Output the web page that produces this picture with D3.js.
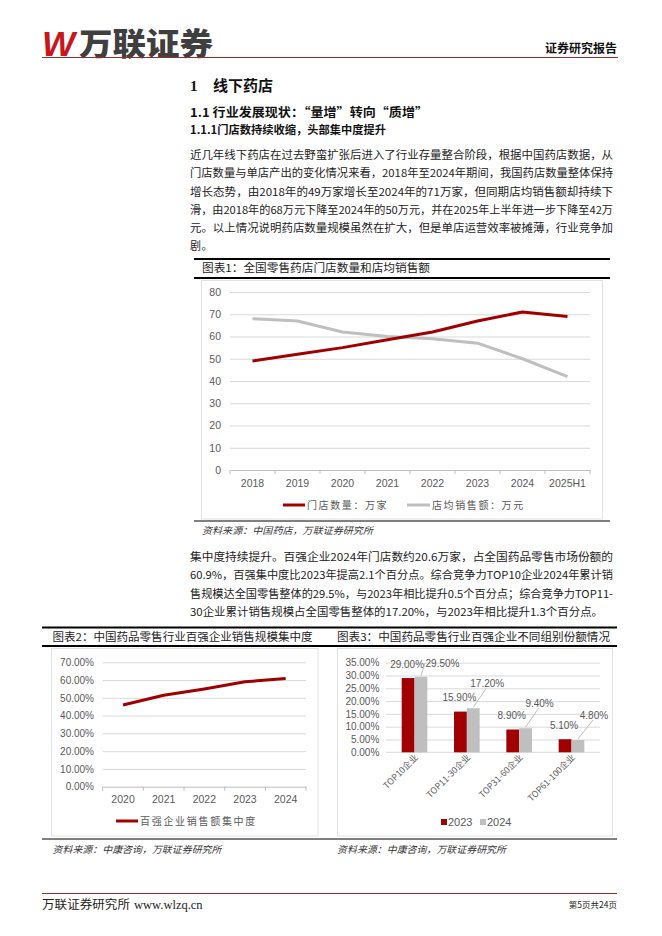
<!DOCTYPE html>
<html>
<head>
<meta charset="utf-8">
<script src="https://cdn.jsdelivr.net/npm/d3@7"></script>
<style>
  body { margin: 0; background: #fff; }
  svg text { font-family: "Noto Sans CJK SC", "Noto Sans", sans-serif; }
</style>
</head>
<body>
<svg id="page"></svg>
<script>
// ---- data ----
const storeYears = ["2018", "2019", "2020", "2021", "2022", "2023", "2024", "2025H1"];
const storeCount = [49, 52, 55, 58.5, 62, 67, 71, 69];
const avgSales = [68, 67, 62, 60, 59, 57, 50, 42];
const chart1Ticks = [0, 10, 20, 30, 40, 50, 60, 70, 80];

const concYears = ["2020", "2021", "2022", "2023", "2024"];
const concShare = [46, 51.5, 55, 59, 60.9];
const chart2Ticks = [0, 10, 20, 30, 40, 50, 60, 70];

const groups = ["TOP10企业", "TOP11-30企业", "TOP31-60企业", "TOP61-100企业"];
const share2023 = [29.0, 15.9, 8.9, 5.1];
const share2024 = [29.5, 17.2, 9.4, 4.8];
const chart3Ticks = [0, 5, 10, 15, 20, 25, 30, 35];

const para1 = [
  "近几年线下药店在过去野蛮扩张后进入了行业存量整合阶段，根据中国药店数据，从",
  "门店数量与单店产出的变化情况来看，2018年至2024年期间，我国药店数量整体保持",
  "增长态势，由2018年的49万家增长至2024年的71万家，但同期店均销售额却持续下",
  "滑，由2018年的68万元下降至2024年的50万元，并在2025年上半年进一步下降至42万",
  "元。以上情况说明药店数量规模虽然在扩大，但是单店运营效率被摊薄，行业竞争加",
  "剧。"
];
const para2 = [
  "集中度持续提升。百强企业2024年门店数约20.6万家，占全国药品零售市场份额的",
  "60.9%，百强集中度比2023年提高2.1个百分点。综合竞争力TOP10企业2024年累计销",
  "售规模达全国零售整体的29.5%，与2023年相比提升0.5个百分点；综合竞争力TOP11-",
  "30企业累计销售规模占全国零售整体的17.20%，与2023年相比提升1.3个百分点。"
];

// ---- styles ----
const RED = "#A00000";
const GREY = "#BFBFBF";
const GRID = "#D9D9D9";
const TXT = "#595959";
const LATIN = "'Liberation Sans', Arial, sans-serif";

const svg = d3.select("#page").attr("width", 662).attr("height", 936);
svg.append("rect").attr("width", 662).attr("height", 936).attr("fill", "#fff");

function label(x, y, str, size, o = {}) {
  const t = svg.append("text")
    .attr("x", x).attr("y", y)
    .attr("font-size", size)
    .attr("fill", o.fill || "#222")
    .attr("text-anchor", o.anchor || "start")
    .text(str);
  if (o.weight) t.attr("font-weight", o.weight);
  if (o.family) t.style("font-family", o.family);
  if (o.italic) t.attr("font-style", "italic");
  if (o.spacing) t.attr("letter-spacing", o.spacing);
  if (o.width) t.attr("textLength", o.width).attr("lengthAdjust", "spacingAndGlyphs");
  return t;
}

function hline(x1, x2, y, w, color) {
  svg.append("line").attr("x1", x1).attr("x2", x2).attr("y1", y).attr("y2", y)
    .attr("stroke", color).attr("stroke-width", w);
}

// ---- header / footer ----
label(42, 56, "W", 35, { fill: "#C8161D", weight: 700, italic: true, family: LATIN });
label(79, 55, "万联证券", 31, { fill: "#3f3f3f", weight: 900, width: 134 });
label(617, 53, "证券研究报告", 12, { anchor: "end", weight: 700, fill: "#111", width: 72 });
hline(42, 618, 57.5, 1, "#9B2C2C");

hline(42, 617, 893.5, 1, "#9B2C2C");
label(42, 909, "万联证券研究所", 12, { fill: "#222", width: 88 });
label(134, 909, "www.wlzq.cn", 12.5, { fill: "#222", family: "'Liberation Serif', serif" });
label(617, 908, "第5页共24页", 8.5, { anchor: "end", fill: "#222" });

// ---- headings and text ----
label(190, 91, "1", 15, { weight: 700, fill: "#111", family: "'Liberation Serif', serif" });
label(213, 91, "线下药店", 15, { weight: 700, fill: "#111", width: 60 });
label(190, 116.5, "1.1 行业发展现状：“量增”转向“质增”", 12, { weight: 700, fill: "#111", width: 238 });
label(190, 134, "1.1.1门店数持续收缩，头部集中度提升", 11, { weight: 700, fill: "#111", width: 196 });

para1.forEach((s, i) => {
  label(190, 159.3 + i * 18.15, s, 11, i < para1.length - 1 ? { width: 423 } : { spacing: 0.4 });
});
para2.forEach((s, i) => {
  label(190, 561 + i * 18.4, s, 11, i < para2.length - 1 ? { width: 423 } : { width: 413 });
});

// ---- chart 1 ----
hline(194, 610, 259, 2, "#000");
label(202, 272.2, "图表1：全国零售药店门店数量和店均销售额", 11, { width: 228 });
hline(194, 610, 278, 2, "#000");
svg.append("rect").attr("x", 201.5).attr("y", 280.5).attr("width", 401).attr("height", 238.5)
  .attr("fill", "none").attr("stroke", "#E3E3E3");
hline(194, 610, 521, 1, "#000");
label(202, 533.6, "资料来源：中国药店，万联证券研究所", 9.5, { italic: true, fill: "#333", width: 171 });

const x1 = d3.scaleBand().domain(storeYears).range([230, 590]);
const y1 = d3.scaleLinear().domain([0, 80]).range([470, 292]);
const g1 = svg.append("g");

g1.append("g").attr("transform", "translate(230,0)")
  .call(d3.axisLeft(y1).tickValues(chart1Ticks.slice(1)).tickSize(-360).tickFormat(""))
  .call(g => g.select(".domain").remove())
  .call(g => g.selectAll("line").attr("stroke", GRID));
g1.append("g").attr("transform", "translate(230,0)")
  .call(d3.axisLeft(y1).tickValues(chart1Ticks).tickSize(0).tickPadding(9))
  .call(g => g.select(".domain").remove())
  .call(g => g.selectAll("text").attr("fill", TXT).attr("font-size", 10.5).style("font-family", LATIN));
g1.append("g").attr("transform", `translate(0,${y1(0)})`)
  .call(d3.axisBottom(x1).tickSize(0).tickPadding(9.5))
  .call(g => g.select(".domain").attr("stroke", GREY))
  .call(g => g.selectAll("text").attr("fill", TXT).attr("font-size", 10.5).style("font-family", LATIN));
g1.append("g").selectAll("line")
  .data(d3.range(storeYears.length + 1)).join("line")
  .attr("x1", i => x1.range()[0] + i * x1.step())
  .attr("x2", i => x1.range()[0] + i * x1.step())
  .attr("y1", y1(0)).attr("y2", y1(0) + 4)
  .attr("stroke", GREY);

const line1 = d3.line()
  .x((d, i) => x1(storeYears[i]) + x1.bandwidth() / 2)
  .y(d => y1(d));
g1.append("path").datum(avgSales).attr("d", line1)
  .attr("fill", "none").attr("stroke", GREY).attr("stroke-width", 3).attr("stroke-linejoin", "round");
g1.append("path").datum(storeCount).attr("d", line1)
  .attr("fill", "none").attr("stroke", RED).attr("stroke-width", 3).attr("stroke-linejoin", "round");

hline(283, 305, 505, 3, RED);
label(307, 509, "门店数量：万家", 10, { fill: TXT, spacing: 1.6 });
hline(407, 430, 505, 3, GREY);
label(432, 509, "店均销售额：万元", 10, { fill: TXT, spacing: 1.6 });

// ---- chart 2 / 3 shared frame ----
hline(42, 617, 627.5, 2, "#000");
hline(42, 617, 646, 2, "#000");
hline(42, 617, 839, 1, "#000");
label(52.5, 640.7, "图表2：中国药品零售行业百强企业销售规模集中度", 11, { width: 260 });
label(337, 640.7, "图表3：中国药品零售行业百强企业不同组别份额情况", 11, { width: 273 });
label(52.5, 852.6, "资料来源：中康咨询，万联证券研究所", 9.5, { italic: true, fill: "#333", width: 169 });
label(337, 852.6, "资料来源：中康咨询，万联证券研究所", 9.5, { italic: true, fill: "#333", width: 169 });
svg.append("rect").attr("x", 51.5).attr("y", 648.5).attr("width", 266.5).attr("height", 187.5)
  .attr("fill", "none").attr("stroke", "#E3E3E3");
svg.append("rect").attr("x", 337.5).attr("y", 648.5).attr("width", 275).attr("height", 187.5)
  .attr("fill", "none").attr("stroke", "#E3E3E3");

// ---- chart 2 ----
const pct = d => d.toFixed(2) + "%";
const x2 = d3.scaleBand().domain(concYears).range([102.7, 306]);
const y2 = d3.scaleLinear().domain([0, 70]).range([786.7, 662.3]);
const g2 = svg.append("g");
g2.append("g").attr("transform", "translate(102.7,0)")
  .call(d3.axisLeft(y2).tickValues(chart2Ticks.slice(1)).tickSize(-203.3).tickFormat(""))
  .call(g => g.select(".domain").remove())
  .call(g => g.selectAll("line").attr("stroke", GRID));
g2.append("g").attr("transform", "translate(102.7,0)")
  .call(d3.axisLeft(y2).tickValues(chart2Ticks).tickSize(0).tickPadding(8.7).tickFormat(pct))
  .call(g => g.select(".domain").remove())
  .call(g => g.selectAll("text").attr("fill", TXT).attr("font-size", 10).style("font-family", LATIN));
g2.append("g").attr("transform", `translate(0,${y2(0)})`)
  .call(d3.axisBottom(x2).tickSize(0).tickPadding(8.8))
  .call(g => g.select(".domain").attr("stroke", GREY))
  .call(g => g.selectAll("text").attr("fill", TXT).attr("font-size", 10.5).style("font-family", LATIN));
g2.append("g").selectAll("line")
  .data(d3.range(concYears.length + 1)).join("line")
  .attr("x1", i => x2.range()[0] + i * x2.step())
  .attr("x2", i => x2.range()[0] + i * x2.step())
  .attr("y1", y2(0)).attr("y2", y2(0) + 4)
  .attr("stroke", GREY);
g2.append("path").datum(concShare)
  .attr("d", d3.line().x((d, i) => x2(concYears[i]) + x2.bandwidth() / 2).y(d => y2(d)))
  .attr("fill", "none").attr("stroke", RED).attr("stroke-width", 3).attr("stroke-linejoin", "round");
hline(116, 138, 821, 3, RED);
label(140, 825, "百强企业销售额集中度", 10, { fill: TXT, spacing: 1.7 });

// ---- chart 3 ----
const x3 = d3.scaleBand().domain(groups).range([386, 600]).paddingInner(0.51).paddingOuter(0.3);
const xs = d3.scaleBand().domain(["2023", "2024"]).range([0, x3.bandwidth()]);
const y3 = d3.scaleLinear().domain([0, 35]).range([752.3, 662.7]);
const g3 = svg.append("g");
g3.append("g").attr("transform", "translate(386,0)")
  .call(d3.axisLeft(y3).tickValues(chart3Ticks.slice(1)).tickSize(-214).tickFormat(""))
  .call(g => g.select(".domain").remove())
  .call(g => g.selectAll("line").attr("stroke", GRID));
g3.append("g").attr("transform", "translate(386,0)")
  .call(d3.axisLeft(y3).tickValues(chart3Ticks).tickSize(0).tickPadding(6.7).tickFormat(pct))
  .call(g => g.select(".domain").remove())
  .call(g => g.selectAll("text").attr("fill", TXT).attr("font-size", 10).style("font-family", LATIN));
g3.append("line").attr("x1", 386).attr("x2", 600).attr("y1", y3(0)).attr("y2", y3(0)).attr("stroke", GRID);

const series3 = [
  { key: "2023", values: share2023, color: RED },
  { key: "2024", values: share2024, color: GREY }
];
series3.forEach(s => {
  g3.append("g").selectAll("rect").data(s.values).join("rect")
    .attr("x", (d, i) => x3(groups[i]) + xs(s.key))
    .attr("width", xs.bandwidth())
    .attr("y", d => y3(d))
    .attr("height", d => y3(0) - y3(d))
    .attr("fill", s.color);
});

// data labels: 2023 above the bar, 2024 offset up-right with a leader line
const redRight = [];
share2023.forEach((d, i) => {
  const cx = x3(groups[i]) + xs("2023") + xs.bandwidth() / 2 - 1;
  const t = g3.append("text").attr("x", cx).attr("y", y3(d) - 10.5)
    .attr("text-anchor", "middle").attr("font-size", 10).attr("fill", TXT)
    .style("font-family", LATIN).text(pct(d));
  redRight.push({ right: cx + t.node().getComputedTextLength() / 2, y: y3(d) - 14 });
});
share2024.forEach((d, i) => {
  const gx = x3(groups[i]) + xs("2024") + xs.bandwidth() / 2;
  const gy = y3(d);
  const ly = Math.max(gy - 25, y3(35) + 0.3);
  const t = g3.append("text").attr("y", ly + 3.6)
    .attr("text-anchor", "middle").attr("font-size", 10).attr("fill", TXT)
    .style("font-family", LATIN).text(pct(d));
  const half = t.node().getComputedTextLength() / 2;
  let lx = gx + 14;
  if (Math.abs(redRight[i].y - ly) < 11) lx = Math.max(lx, redRight[i].right + half + 1.5);
  t.attr("x", lx);
  const end = gy - ly > 18 ? [lx - 1, ly + 5] : [lx - half - 0.5, ly];
  g3.append("line").attr("x1", gx).attr("y1", gy - 1).attr("x2", end[0]).attr("y2", end[1])
    .attr("stroke", GREY).attr("stroke-width", 1);
});

g3.append("g").selectAll("text").data(groups).join("text")
  .attr("transform", d => `translate(${x3(d) + x3.bandwidth() / 2 + 4},758) rotate(-45)`)
  .attr("text-anchor", "end").attr("font-size", 8.8).attr("fill", TXT)
  .text(d => d);

series3.forEach((s, i) => {
  const lx = 441 + i * 39;
  g3.append("rect").attr("x", lx).attr("y", 819).attr("width", 6).attr("height", 6).attr("fill", s.color);
  g3.append("text").attr("x", lx + 7).attr("y", 826).attr("font-size", 11).attr("fill", TXT)
    .style("font-family", LATIN).text(s.key);
});
</script>
</body>
</html>
